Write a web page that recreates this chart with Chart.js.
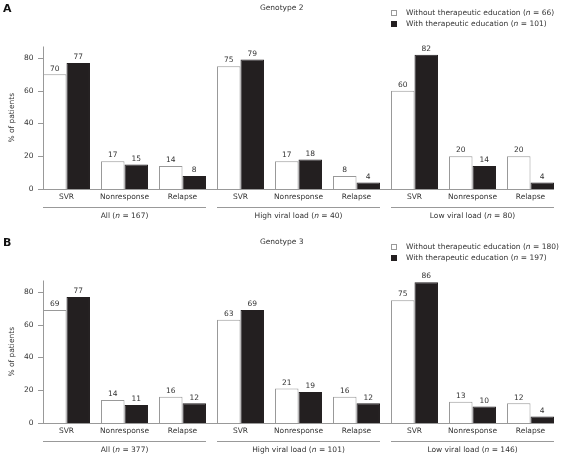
<!DOCTYPE html>
<html>
<head>
<meta charset="utf-8">
<script src="https://cdn.jsdelivr.net/npm/chart.js@4.4.1/dist/chart.umd.min.js"></script>
<style>
  body { margin: 0; background: #fff; width: 566px; height: 459px; position: relative; overflow: hidden; }
  .panel { position: absolute; left: 0; width: 566px; height: 225px; }
  #panelA { top: 0; }
  #panelB { top: 234px; }
</style>
</head>
<body>
<div class="panel" id="panelA"><canvas id="chartA" width="566" height="225"></canvas></div>
<div class="panel" id="panelB"><canvas id="chartB" width="566" height="225"></canvas></div>
<script>
const categories = ['SVR', 'Nonresponse', 'Relapse', 'SVR', 'Nonresponse', 'Relapse', 'SVR', 'Nonresponse', 'Relapse'];
const groupNames = ['All', 'High viral load', 'Low viral load'];
const yTicks = [0, 20, 40, 60, 80];

// Genotype 2
const g2Without = [70, 17, 14, 75, 17, 8, 60, 20, 20];
const g2With = [77, 15, 8, 79, 18, 4, 82, 14, 4];
const g2GroupN = [167, 40, 80];
const g2LegendN = [66, 101];

// Genotype 3
const g3Without = [69, 14, 16, 63, 21, 16, 75, 13, 12];
const g3With = [77, 11, 12, 69, 19, 12, 86, 10, 4];
const g3GroupN = [377, 101, 146];
const g3LegendN = [180, 197];

const FONT = '"DejaVu Sans", Verdana, sans-serif';
const FS = 7.5;
const TEXT = '#333';
const AXIS = '#999';
const DARK = '#231f20';

// draws "prefix (n = N)" with an italic n
function drawNText(ctx, x, y, prefix, n, align) {
  const parts = [
    { t: prefix + ' (', f: `${FS}px ${FONT}` },
    { t: 'n', f: `italic ${FS}px ${FONT}` },
    { t: ' = ' + n + ')', f: `${FS}px ${FONT}` }
  ];
  let total = 0;
  parts.forEach(p => { ctx.font = p.f; p.w = ctx.measureText(p.t).width; total += p.w; });
  let cx = align === 'center' ? x - total / 2 : x;
  ctx.textAlign = 'left';
  parts.forEach(p => { ctx.font = p.f; ctx.fillText(p.t, cx, y); cx += p.w; });
}

const panelPlugin = {
  id: 'panel',
  afterDatasetsDraw(chart, args, opts) {
    const { ctx, chartArea } = chart;
    const ys = chart.scales.y;
    const m0 = chart.getDatasetMeta(0);
    const m1 = chart.getDatasetMeta(1);
    const left = m0.data[0].x - m0.data[0].width / 2;
    const lastBar = m1.data[m1.data.length - 1];
    const right = lastBar.x + lastBar.width / 2;
    const bottom = ys.getPixelForValue(0);

    ctx.save();
    ctx.strokeStyle = AXIS;
    ctx.lineWidth = 1;
    ctx.beginPath();
    ctx.moveTo(Math.round(left) + 0.5, chartArea.top);
    ctx.lineTo(Math.round(left) + 0.5, bottom);
    yTicks.forEach(v => {
      const py = Math.round(ys.getPixelForValue(v)) + 0.5;
      ctx.moveTo(left - 5, py);
      ctx.lineTo(left, py);
    });
    const by = Math.round(bottom) + 0.5;
    ctx.moveTo(left, by);
    ctx.lineTo(right, by);
    ctx.stroke();

    // value labels
    ctx.fillStyle = TEXT;
    ctx.font = `${FS}px ${FONT}`;
    ctx.textAlign = 'center';
    ctx.textBaseline = 'bottom';
    [m0, m1].forEach((meta, di) => {
      meta.data.forEach((bar, i) => {
        ctx.fillText(String(chart.data.datasets[di].data[i]), bar.x, bar.y - 2);
      });
    });

    // group underlines and labels
    ctx.textBaseline = 'middle';
    opts.groupN.forEach((n, g) => {
      const a = m0.data[g * 3];
      const b = m1.data[g * 3 + 2];
      const gl = a.x - a.width / 2;
      const gr = b.x + b.width / 2;
      ctx.strokeStyle = AXIS;
      ctx.beginPath();
      ctx.moveTo(gl, by + 18);
      ctx.lineTo(gr, by + 18);
      ctx.stroke();
      const mid = m0.data[g * 3 + 1].x + m0.data[g * 3 + 1].width / 2;
      drawNText(ctx, mid, by + 26.5, groupNames[g], n, 'center');
    });

    // panel letter
    ctx.font = `bold 11px ${FONT}`;
    ctx.fillStyle = '#111';
    ctx.textAlign = 'left';
    ctx.fillText(opts.letter, 3, 9);

    // legend
    const lx = 391, ly = [13, 24];
    chart.data.datasets.forEach((ds, i) => {
      ctx.fillStyle = ds.backgroundColor;
      ctx.fillRect(lx, ly[i] - 3, 6, 6);
      ctx.strokeStyle = ds.borderColor;
      ctx.strokeRect(lx + 0.5, ly[i] - 2.5, 5, 5);
      ctx.fillStyle = TEXT;
      drawNText(ctx, 406, ly[i] + 0.5, ds.label, opts.legendN[i], 'left');
    });
    ctx.restore();
  }
};

function makePanel(id, letter, title, without, withEdu, groupN, legendN) {
  return new Chart(document.getElementById(id), {
    type: 'bar',
    data: {
      labels: categories,
      datasets: [
        { label: 'Without therapeutic education', data: without, backgroundColor: '#fff', borderColor: AXIS, borderWidth: 1 },
        { label: 'With therapeutic education', data: withEdu, backgroundColor: DARK, borderColor: DARK, borderWidth: 1 }
      ]
    },
    options: {
      responsive: false,
      animation: false,
      devicePixelRatio: 1,
      categoryPercentage: 0.81,
      barPercentage: 1,
      layout: { padding: { left: 4, right: 6.5, top: 0, bottom: 0 } },
      plugins: {
        legend: { display: false },
        tooltip: { enabled: false },
        title: {
          display: true,
          text: title,
          color: TEXT,
          font: { family: FONT, size: FS, weight: 'normal' },
          padding: { top: 3.5, bottom: 34 }
        },
        panel: { letter, groupN, legendN }
      },
      scales: {
        x: {
          grid: { display: false, drawTicks: false },
          border: { display: false },
          ticks: { color: TEXT, font: { family: FONT, size: FS }, padding: 3.5, maxRotation: 0, autoSkip: false },
          afterFit: s => { s.height = 36; }
        },
        y: {
          min: 0,
          max: 87,
          grid: { display: false, drawTicks: false },
          border: { display: false },
          ticks: { color: TEXT, font: { family: FONT, size: FS }, padding: 4 },
          afterBuildTicks: s => { s.ticks = yTicks.map(v => ({ value: v })); },
          title: {
            display: true,
            text: '% of patients',
            color: TEXT,
            font: { family: FONT, size: FS },
            padding: { top: 4, bottom: 4 }
          },
          afterFit: s => { s.width = 33.5; }
        }
      }
    },
    plugins: [panelPlugin]
  });
}

makePanel('chartA', 'A', 'Genotype 2', g2Without, g2With, g2GroupN, g2LegendN);
makePanel('chartB', 'B', 'Genotype 3', g3Without, g3With, g3GroupN, g3LegendN);
</script>
</body>
</html>
